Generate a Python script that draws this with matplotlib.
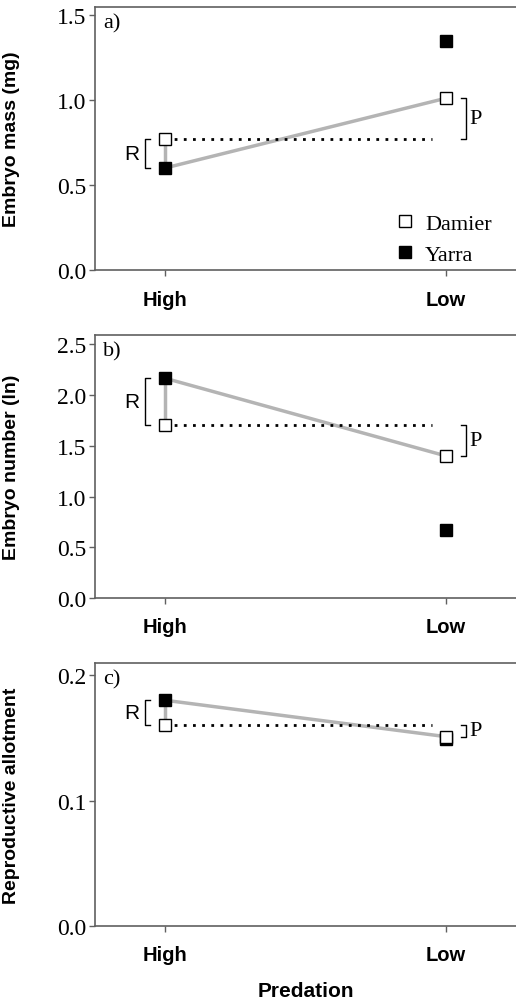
import numpy as np
import matplotlib.pyplot as plt

# predation level: High, Low
levels = ['High', 'Low']

# panel a) embryo mass (mg)
mass_damier = [0.77, 1.01]
mass_yarra = [0.60, 1.345]

# panel b) embryo number (ln)
num_damier = [1.70, 1.40]
num_yarra = [2.165, 0.665]

# panel c) reproductive allotment
ra_damier = [0.160, 0.151]
ra_yarra = [0.180, 0.149]

panels = [
    ('a)', 'Embryo mass (mg)', mass_damier, mass_yarra, 1.545, [0.0, 0.5, 1.0, 1.5], '%.1f'),
    ('b)', 'Embryo number (ln)', num_damier, num_yarra, 2.59, [0.0, 0.5, 1.0, 1.5, 2.0, 2.5], '%.1f'),
    ('c)', 'Reproductive allotment', ra_damier, ra_yarra, 0.2096, [0.0, 0.1, 0.2], '%.1f'),
]

serif = 'Liberation Serif'
sans = 'Liberation Sans'
gray = '#b4b4b4'
spine_col = '#606060'

fig = plt.figure(figsize=(5.16, 10.04), dpi=100)
bottoms = [0.730, 0.4034, 0.0767]
h = 0.2618

x = np.arange(len(levels))

for (tag, ylab, dam, yar, ytop, yt, fmt), b in zip(panels, bottoms):
    ax = fig.add_axes([0.184, b, 0.816, h])

    # gray connectors: Yarra High -> Damier High, Yarra High -> Damier Low
    ax.plot([x[0], x[0]], [yar[0], dam[0]], color=gray, lw=2.5, zorder=1)
    ax.plot([x[0], x[1]], [yar[0], dam[1]], color=gray, lw=2.5, zorder=1)
    # dotted reference at Damier High level
    ax.plot([x[0], 0.95], [dam[0], dam[0]], color='black', lw=2,
            linestyle=(0, (1, 2.3)), zorder=1)

    ax.plot(x, yar, 's', color='black', ms=8, mec='black', mew=1,
            linestyle='none', label='Yarra', zorder=3)
    ax.plot(x, dam, 's', color='white', ms=8, mec='black', mew=1,
            linestyle='none', label='Damier', zorder=4)

    # R bracket (left of High)
    bx, tk = -0.071, 0.018
    lo, hi = min(yar[0], dam[0]), max(yar[0], dam[0])
    ax.plot([bx + tk, bx, bx, bx + tk], [hi, hi, lo, lo], color='black', lw=1, zorder=2)
    ax.text(bx - 0.02, (lo + hi) / 2, 'R', ha='right', va='center',
            fontsize=15, family=sans)

    # P bracket (right of Low)
    px = 1.071
    lo, hi = min(dam[0], dam[1]), max(dam[0], dam[1])
    ax.plot([px - tk, px, px, px - tk], [hi, hi, lo, lo], color='black', lw=1, zorder=2)
    ax.text(px + 0.012, (lo + hi) / 2, 'P', ha='left', va='center',
            fontsize=16, family=serif)

    ax.text(0.019, 0.94, tag, transform=ax.transAxes, ha='left', va='center',
            fontsize=16, family=serif)

    ax.set_xlim(-0.25, 1.25)
    ax.set_ylim(0, ytop)
    ax.set_xticks(x)
    ax.set_xticklabels(levels, fontsize=14.5, fontweight='bold', family=sans)
    ax.set_yticks(yt)
    ax.set_yticklabels([fmt % v for v in yt], fontsize=17, family=serif)
    ax.tick_params(axis='both', direction='out', length=4, width=1, color=spine_col)
    ax.tick_params(axis='x', pad=10)
    ax.tick_params(axis='y', pad=2)
    ax.spines['right'].set_visible(False)
    for s in ['left', 'top', 'bottom']:
        ax.spines[s].set_color(spine_col)
        ax.spines[s].set_linewidth(1.2)
    ax.set_ylabel(ylab, fontsize=14, fontweight='bold', family=sans)
    ax.yaxis.set_label_coords(-0.178, 0.5)

    if tag == 'a)':
        hs, ls = ax.get_legend_handles_labels()
        ax.legend(hs[::-1], ls[::-1], loc='lower right', bbox_to_anchor=(0.99, -0.055),
                  frameon=False, prop={'family': serif, 'size': 16},
                  handletextpad=0.4, labelspacing=0.45, handlelength=1.0)
    if tag == 'c)':
        ax.set_xlabel('Predation', fontsize=15, fontweight='bold', family=sans,
                      labelpad=12)

fig.savefig('out.png', dpi=100)
